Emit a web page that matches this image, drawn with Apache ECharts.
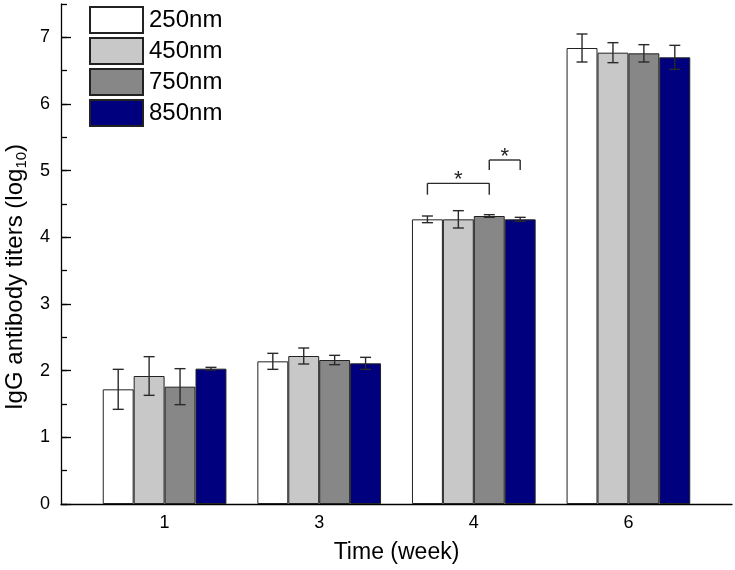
<!DOCTYPE html>
<html>
<head>
<meta charset="utf-8">
<script src="https://cdn.jsdelivr.net/npm/echarts@6/dist/echarts.min.js"></script>
<style>html,body{margin:0;padding:0;background:#fff}#c{width:735px;height:570px}</style>
</head>
<body>
<div id="c"></div>
<script>
const categories = ['1', '3', '4', '6'];
const seriesNames = ['250nm', '450nm', '750nm', '850nm'];
const mean250 = [1.72, 2.14, 4.27, 6.84];
const err250  = [0.30, 0.12, 0.05, 0.21];
const mean450 = [1.92, 2.22, 4.27, 6.77];
const err450  = [0.29, 0.12, 0.13, 0.15];
const mean750 = [1.76, 2.16, 4.32, 6.76];
const err750  = [0.27, 0.07, 0.02, 0.13];
const mean850 = [2.03, 2.11, 4.27, 6.70];
const err850  = [0.02, 0.09, 0.03, 0.18];
const yTicks = [0, 1, 2, 3, 4, 5, 6, 7];
// significance brackets: category index, from series, to series, line level, leg bottom level
const sigCat = [2, 2];
const sigFrom = [0, 2];
const sigTo = [2, 3];
const sigLine = [4.81, 5.16];
const sigLeg = [4.64, 5.01];
const sigLabel = ['*', '*'];

const colors = ['#ffffff', '#c8c8c8', '#878787', '#00007f'];
const FONT = 'Liberation Sans, Arial, sans-serif';
const BAR_FRAC = 0.2;
const means = [mean250, mean450, mean750, mean850];
const errs = [err250, err450, err750, err850];
const xPos = (ci, si) => (ci + 1) + (si - 1.5) * BAR_FRAC;

const chart = echarts.init(document.getElementById('c'), null, {renderer: 'canvas'});

const series = [];
means.forEach((m, si) => {
  series.push({
    name: seriesNames[si],
    type: 'bar',
    data: m.map((v, ci) => [ci + 1, v]),
    barWidth: '20%',
    barGap: '0%',
    itemStyle: {color: colors[si], borderColor: '#222', borderWidth: 1},
    emphasis: {disabled: true},
    z: 2
  });
});
const errData = [];
means.forEach((m, si) => m.forEach((v, ci) => {
  errData.push([xPos(ci, si), v - errs[si][ci], v + errs[si][ci]]);
}));
series.push({
  type: 'custom',
  data: errData,
  encode: {x: 0, y: [1, 2]},
  z: 5,
  silent: true,
  renderItem: function (params, api) {
    const x = api.value(0);
    const lo = api.coord([x, api.value(1)]);
    const hi = api.coord([x, api.value(2)]);
    const w = 5.5;
    const st = {stroke: '#2a2a2a', lineWidth: 1.4};
    return {type: 'group', children: [
      {type: 'line', shape: {x1: lo[0], y1: lo[1], x2: hi[0], y2: hi[1]}, style: st},
      {type: 'line', shape: {x1: lo[0] - w, y1: lo[1], x2: lo[0] + w, y2: lo[1]}, style: st},
      {type: 'line', shape: {x1: hi[0] - w, y1: hi[1], x2: hi[0] + w, y2: hi[1]}, style: st}
    ]};
  }
});
const sigData = sigCat.map((c, i) => [xPos(c, sigFrom[i]), xPos(c, sigTo[i]), sigLine[i], sigLeg[i]]);
series.push({
  type: 'custom',
  data: sigData,
  encode: {x: [0, 1], y: [2, 3]},
  z: 5,
  silent: true,
  renderItem: function (params, api) {
    const a = api.coord([api.value(0), api.value(2)]);
    const b = api.coord([api.value(1), api.value(2)]);
    const a2 = api.coord([api.value(0), api.value(3)]);
    const b2 = api.coord([api.value(1), api.value(3)]);
    const st = {stroke: '#2a2a2a', lineWidth: 1.4};
    return {type: 'group', children: [
      {type: 'line', shape: {x1: a2[0], y1: a2[1], x2: a[0], y2: a[1]}, style: st},
      {type: 'line', shape: {x1: a[0], y1: a[1], x2: b[0], y2: b[1]}, style: st},
      {type: 'line', shape: {x1: b[0], y1: b[1], x2: b2[0], y2: b2[1]}, style: st},
      {type: 'text', style: {x: (a[0] + b[0]) / 2, y: a[1] - 14, text: sigLabel[params.dataIndex],
        fill: '#222', font: '22px ' + FONT, align: 'center', verticalAlign: 'top'}}
    ]};
  }
});

chart.setOption({
  animation: false,
  backgroundColor: '#fff',
  textStyle: {fontFamily: FONT},
  grid: {left: 61, right: 3, top: 4, bottom: 66, containLabel: false, outerBoundsMode: 'none'},
  legend: {
    show: true, orient: 'vertical', left: 89, top: 6,
    itemWidth: 53, itemHeight: 26, itemGap: 3, padding: 0,
    icon: 'rect', selectedMode: false,
    textStyle: {fontSize: 24, color: '#000', fontFamily: FONT, padding: [0, 0, 0, 1]},
    data: seriesNames
  },
  xAxis: {
    type: 'value', min: 0.33, max: 4.67,
    axisLine: {show: true, onZero: false, lineStyle: {color: '#000', width: 1.3}},
    axisTick: {show: false},
    splitLine: {show: false},
    axisLabel: {
      customValues: [1, 2, 3, 4],
      formatter: v => categories[Math.round(v) - 1],
      fontSize: 18, color: '#000', margin: 10, fontFamily: FONT
    },
    name: 'Time (week)', nameLocation: 'middle', nameGap: 37,
    nameTextStyle: {fontSize: 23, color: '#000', fontFamily: FONT}
  },
  yAxis: [{
    type: 'value', min: 0, max: 7.5, interval: 1,
    axisLine: {show: true, lineStyle: {color: '#000', width: 1.3}},
    axisTick: {show: true, inside: true, length: 10, customValues: yTicks, lineStyle: {color: '#000', width: 1.3}},
    splitLine: {show: false},
    axisLabel: {customValues: yTicks, fontSize: 18, color: '#000', margin: 11, fontFamily: FONT,
      formatter: v => Number.isInteger(v) ? String(v) : ''},
    name: '{a|IgG antibody titers (log}{s|10}{a|)}', nameLocation: 'middle', nameGap: 28,
    nameTextStyle: {color: '#000', padding: [0, 46, 0, 0], rich: {
      a: {fontSize: 24, fontFamily: FONT, color: '#000'},
      s: {fontSize: 15, fontFamily: FONT, color: '#000', padding: [12, 0, 0, 0]}
    }}
  }, {
    type: 'value', min: 0, max: 7.5, interval: 0.5, position: 'left', offset: 0,
    axisLine: {show: false},
    axisTick: {show: true, inside: true, length: 6, lineStyle: {color: '#000', width: 1.3}},
    axisLabel: {show: false},
    splitLine: {show: false}
  }],
  series: series
});
</script>
</body>
</html>
